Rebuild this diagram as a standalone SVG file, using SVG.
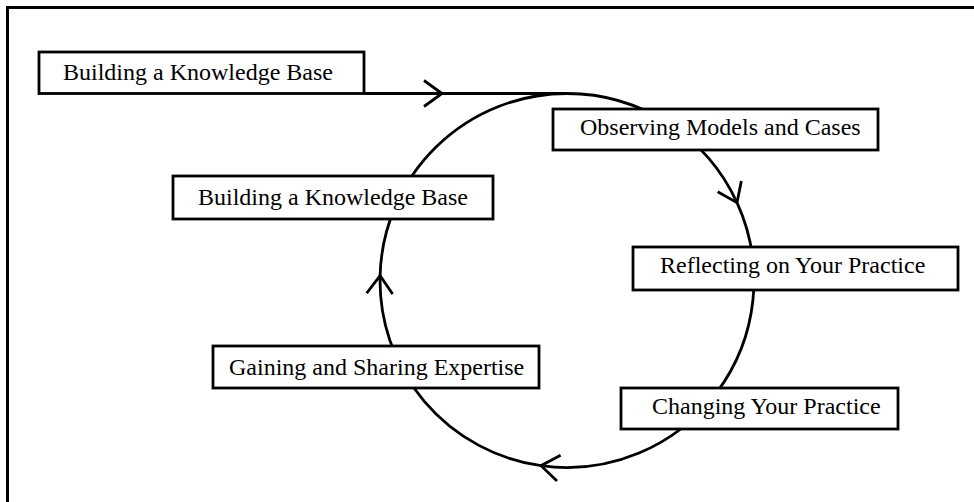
<svg xmlns="http://www.w3.org/2000/svg" width="974" height="502" viewBox="0 0 974 502">
<defs>
<style>
.box rect{fill:#fff;stroke:#000;stroke-width:2.8}
.box text{font-family:"Liberation Serif","Times New Roman",serif;font-size:24px;fill:#000}
.conn{fill:none;stroke:#000;stroke-width:2.8}
</style>
<marker id="chev" markerUnits="userSpaceOnUse" markerWidth="44" markerHeight="44" viewBox="-22 -22 44 44" refX="0" refY="0" orient="auto">
<path d="M-18,-13 L0,0 L-18,13" fill="none" stroke="#000" stroke-width="2.8"/>
</marker>
</defs>
<rect width="974" height="502" fill="#fff"/>
<rect id="frame" x="7.5" y="7.5" width="990" height="520" fill="none" stroke="#000" stroke-width="3"/>
<g id="connectors" class="conn">
<path d="M364,93.5 L442,93.5" marker-end="url(#chev)"/>
<path d="M442,93.5 L567,93.5"/>
<path d="M567,93.5 A187,187 0 0 1 737,202.7" marker-end="url(#chev)"/>
<path d="M737,202.7 A187,187 0 0 1 541,465.7" marker-end="url(#chev)"/>
<path d="M541,465.7 A187,187 0 0 1 380.1,275.6" marker-end="url(#chev)"/>
<path d="M380.1,275.6 A187,187 0 0 1 567,93.5"/>
</g>
<g id="node-building-top" class="box">
<rect x="39" y="52" width="325" height="41.5"/>
<text x="63" y="80">Building a Knowledge Base</text>
</g>
<g id="node-observing" class="box">
<rect x="553" y="109" width="325" height="41"/>
<text x="580" y="135">Observing Models and Cases</text>
</g>
<g id="node-building" class="box">
<rect x="173" y="176" width="320" height="43"/>
<text x="198" y="205">Building a Knowledge Base</text>
</g>
<g id="node-reflecting" class="box">
<rect x="633" y="247" width="325" height="43"/>
<text x="660" y="273">Reflecting on Your Practice</text>
</g>
<g id="node-gaining" class="box">
<rect x="213" y="346" width="326" height="42"/>
<text x="229" y="375">Gaining and Sharing Expertise</text>
</g>
<g id="node-changing" class="box">
<rect x="621" y="388" width="277" height="41"/>
<text x="652" y="414">Changing Your Practice</text>
</g>
</svg>
